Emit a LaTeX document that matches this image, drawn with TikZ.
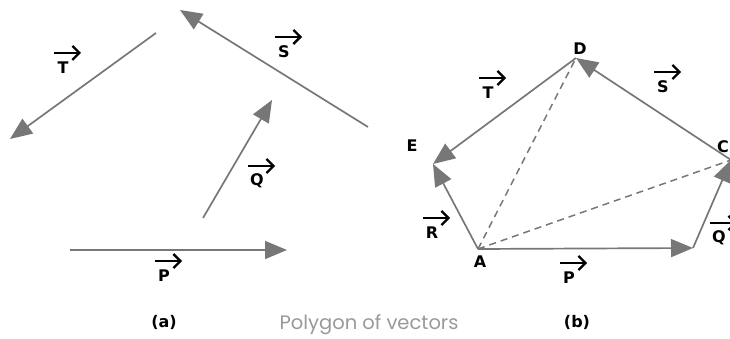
\documentclass[tikz,border=0pt]{standalone}
\usepackage{fontspec}
\setmainfont{DejaVu Sans}
\newfontfamily\capfont{Poppins}
\usetikzlibrary{arrows.meta}
\definecolor{vecgray}{HTML}{777777}
\definecolor{capgray}{HTML}{999999}
\tikzset{
  vec/.style={draw=vecgray, line width=1.7pt, -{Triangle[length=22pt,width=18pt]}},
  diag/.style={draw=vecgray, line width=1.5pt, dash pattern=on 7pt off 5pt},
  lbl/.style={font=\fontsize{16}{18}\selectfont\bfseries, text=black, inner sep=0pt},
  overarr/.style={draw=black, line width=2.3pt, -{Straight Barb[length=7pt,width=14pt]}},
}
\newcommand\vecover[1]{\draw[overarr] ([xshift=-9pt,yshift=15pt]#1.center) -- ++(27pt,0);}
\begin{document}
\begin{tikzpicture}[x=1pt,y=-1pt]
\useasboundingbox (0,0) rectangle (730,339);
% ---------- (a) ----------
\coordinate (Pa0) at (70,250);  \coordinate (Pa1) at (287,250);
\coordinate (Qa0) at (203,218); \coordinate (Qa1) at (272,100);
\coordinate (Sa0) at (368,127); \coordinate (Sa1) at (180,10);
\coordinate (Ta0) at (156,33);  \coordinate (Ta1) at (10,139);
\draw[vec] (Pa0) -- (Pa1);
\draw[vec] (Qa0) -- (Qa1);
\draw[vec] (Sa0) -- (Sa1);
\draw[vec] (Ta0) -- (Ta1);
\node[lbl] (lPa) at (164,276) {P}; \vecover{lPa}
\node[lbl] (lQa) at (257,181) {Q}; \vecover{lQa}
\node[lbl] (lSa) at (284,52) {S};  \vecover{lSa}
\node[lbl] (lTa) at (63,68) {T};   \vecover{lTa}
\node[lbl] (capa) at (164,322) {(a)};
% ---------- (b) ----------
\coordinate (A) at (478,249);
\coordinate (B) at (693,248);
\coordinate (C) at (731,160);
\coordinate (D) at (576,58);
\coordinate (E) at (433,164);
\draw[diag] (A) -- (D);
\draw[diag] (A) -- (C);
\draw[vec] (A) -- (B);
\draw[vec] (B) -- (C);
\draw[vec] (C) -- (D);
\draw[vec] (D) -- (E);
\draw[vec] (A) -- (E);
\node[lbl] (nA) at (480,262) {A};
\node[lbl] (nC) at (723,147) {C};
\node[lbl] (nD) at (580,49) {D};
\node[lbl] (nE) at (412,146) {E};
\node[lbl] (lPb) at (569,278) {P}; \vecover{lPb}
\node[lbl] (lQb) at (719,238) {Q}; \vecover{lQb}
\node[lbl] (lSb) at (663,87) {S};  \vecover{lSb}
\node[lbl] (lTb) at (488,93) {T};  \vecover{lTb}
\node[lbl] (lRb) at (432,233) {R}; \vecover{lRb}
\node[lbl] (capb) at (577,322) {(b)};
% ---------- caption ----------
\node[font=\capfont\fontsize{19.5}{22}\selectfont, text=capgray, inner sep=0pt] (title) at (369,325) {Polygon of vectors};
\end{tikzpicture}
\end{document}
